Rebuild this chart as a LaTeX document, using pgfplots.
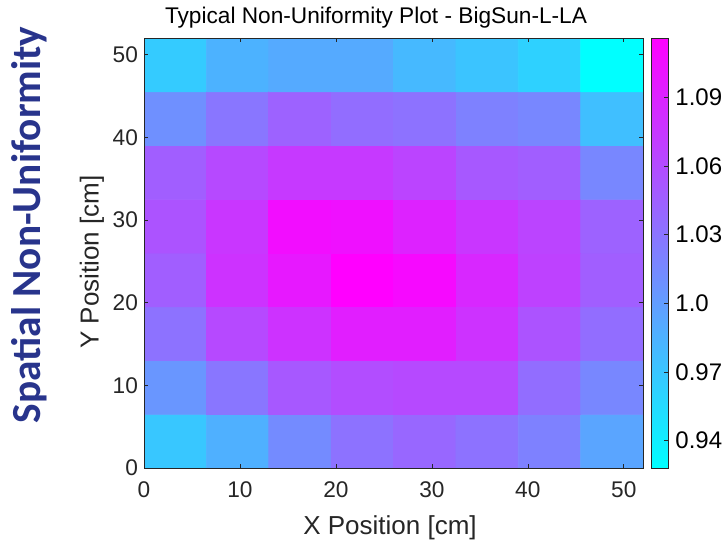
\documentclass[border=0pt]{standalone}
\usepackage{pgfplots}
\pgfplotsset{compat=1.18}
\usepackage{fontspec}
\setmainfont{Liberation Sans}
\newfontfamily\calib{Carlito}
\definecolor{txtgray}{RGB}{38,38,38}
\definecolor{navy}{RGB}{40,52,140}
\begin{document}
\begin{tikzpicture}
\path[use as bounding box] (-108pt,-56.25pt) rectangle (438pt,351pt);
\begin{axis}[
  at={(0pt,0pt)}, anchor=south west,
  scale only axis,
  width=374.25pt, height=322.5pt,
  xmin=0, xmax=52, ymin=0, ymax=52,
  xtick={0,10,20,30,40,50}, ytick={0,10,20,30,40,50},
  tick align=inside, major tick length=3pt,
  tick style={color=txtgray, line width=0.5pt},
  axis line style={color=txtgray, line width=0.6pt},
  axis on top,
  /pgf/number format/assume math mode=true,
  tick label style={font=\fontsize{17}{17}\selectfont, text=txtgray},
  xticklabel style={yshift=-7pt},
  yticklabel style={xshift=-1pt},
  colormap={cool}{rgb255=(0,255,255) rgb255=(255,0,255)},
  point meta min=0.928, point meta max=1.116,
  colorbar,
  colorbar style={
    at={(parent axis.north east)}, anchor=north west, xshift=-2.5pt,
    width=12.75pt,
    ytick={0.94,0.97,1.0,1.03,1.06,1.09},
    yticklabels={0.94,0.97,1.0,1.03,1.06,1.09},
    ytick pos=right, yticklabel pos=right,
    tick align=inside, major tick length=3pt,
    axis line style={color=txtgray, line width=0.6pt},
    yticklabel style={font=\fontsize{18}{18}\selectfont, text=black, xshift=2pt},
  },
]
\addplot[matrix plot*, mesh/cols=8, point meta=explicit] table[meta=c] {
x y c
3.25 3.25 0.969
9.75 3.25 0.986
16.25 3.25 1.013
22.75 3.25 1.031
29.25 3.25 1.039
35.75 3.25 1.031
42.25 3.25 1.020
48.75 3.25 0.994
3.25 9.75 1.005
9.75 9.75 1.028
16.25 9.75 1.050
22.75 9.75 1.058
29.25 9.75 1.061
35.75 9.75 1.061
42.25 9.75 1.035
48.75 9.75 1.016
3.25 16.25 1.031
9.75 16.25 1.061
16.25 16.25 1.078
22.75 16.25 1.093
29.25 16.25 1.093
35.75 16.25 1.078
42.25 16.25 1.054
48.75 16.25 1.035
3.25 22.75 1.046
9.75 22.75 1.078
16.25 22.75 1.097
22.75 22.75 1.116
29.25 22.75 1.108
35.75 22.75 1.086
42.25 22.75 1.067
48.75 22.75 1.046
3.25 29.25 1.054
9.75 29.25 1.075
16.25 29.25 1.105
22.75 29.25 1.103
29.25 29.25 1.090
35.75 29.25 1.075
42.25 29.25 1.065
48.75 29.25 1.043
3.25 35.75 1.046
9.75 35.75 1.061
16.25 35.75 1.073
22.75 35.75 1.073
29.25 35.75 1.065
35.75 35.75 1.050
42.25 35.75 1.046
48.75 35.75 1.016
3.25 42.25 1.009
9.75 42.25 1.028
16.25 42.25 1.043
22.75 42.25 1.035
29.25 42.25 1.031
35.75 42.25 1.020
42.25 42.25 1.016
48.75 42.25 0.975
3.25 48.75 0.966
9.75 48.75 0.984
16.25 48.75 0.990
22.75 48.75 0.990
29.25 48.75 0.979
35.75 48.75 0.971
42.25 48.75 0.962
48.75 48.75 0.928
};
\end{axis}
\node[font=\fontsize{17}{17}\selectfont, text=black] at (174pt,337.5pt) {Typical Non-Uniformity Plot - BigSun-L-LA};
\node[font=\fontsize{19.5}{19.5}\selectfont, text=txtgray] at (184.5pt,-45pt) {X Position [cm]};
\node[font=\fontsize{19.5}{19.5}\selectfont, text=txtgray, rotate=90] at (-39pt,154.5pt) {Y Position [cm]};
\node[font=\calib\bfseries\fontsize{31}{31}\selectfont, text=navy, rotate=90] at (-86.25pt,182.25pt) {Spatial Non-Uniformity};
\end{tikzpicture}
\end{document}
